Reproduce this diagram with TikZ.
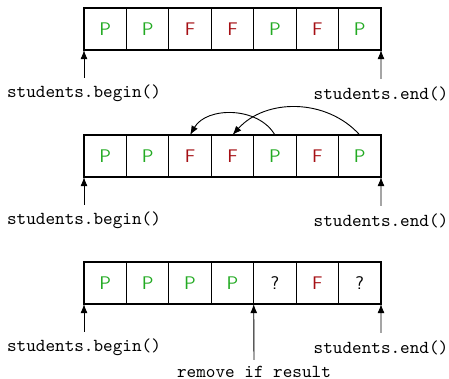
\documentclass[tikz,border=0pt]{standalone}
\usetikzlibrary{arrows.meta}
\definecolor{pgreen}{RGB}{34,170,34}
\definecolor{fred}{RGB}{165,15,20}
\begin{document}
\begin{tikzpicture}[x=0.5464pt,y=-0.5464pt,
  cell/.style={draw, line width=0.6pt, minimum width=23.18pt, minimum height=22.95pt,
    inner sep=0pt, outer sep=0pt, font=\sffamily, anchor=north west},
  pass/.style={text=pgreen}, fail/.style={text=fred}, unk/.style={text=black},
  lbl/.style={font=\ttfamily, inner sep=0pt},
  ptr/.style={-{Latex[length=5pt,width=3.8pt]}, line width=0.5pt},
  mv/.style={-{Latex[length=5pt,width=3.8pt]}, line width=0.5pt}]
\useasboundingbox (0,0) rectangle (449,379);
% row 1
\foreach \t/\s [count=\i from 0] in {P/pass,P/pass,F/fail,F/fail,P/pass,F/fail,P/pass}
  \node[cell,\s] (a\i) at ({84+42.43*\i},8) {\t};
% row 2
\foreach \t/\s [count=\i from 0] in {P/pass,P/pass,F/fail,F/fail,P/pass,F/fail,P/pass}
  \node[cell,\s] (b\i) at ({84+42.43*\i},135) {\t};
% row 3
\foreach \t/\s [count=\i from 0] in {P/pass,P/pass,P/pass,P/pass,?/unk,F/fail,?/unk}
  \node[cell,\s] (c\i) at ({84+42.43*\i},262) {\t};
% labels and pointers
\node[lbl] (la1) at (84,93) {students.begin()};
\node[lbl] (le1) at (381,94) {students.end()};
\node[lbl] (la2) at (84,220) {students.begin()};
\node[lbl] (le2) at (381,221) {students.end()};
\node[lbl] (la3) at (84,347) {students.begin()};
\node[lbl] (le3) at (381,348) {students.end()};
\node[lbl] (rm) at (254,371.5) {remove if result};
\coordinate (pa1) at (84,78);
\coordinate (pe1) at (381,79);
\coordinate (pa2) at (84,205);
\coordinate (pe2) at (381,206);
\coordinate (pa3) at (84,332);
\coordinate (pe3) at (381,333);
\coordinate (prm) at (254,360);
\draw[ptr] (pa1) -- (a0.south west);
\draw[ptr] (pe1) -- (a6.south east);
\draw[ptr] (pa2) -- (b0.south west);
\draw[ptr] (pe2) -- (b6.south east);
\draw[ptr] (pa3) -- (c0.south west);
\draw[ptr] (pe3) -- (c6.south east);
\draw[ptr] (prm) -- (c3.south east);
% moves
\draw[mv] (b4.north) to[bend right=60] (b2.north);
\draw[mv] (b6.north) to[bend right=48] (b3.north);
\end{tikzpicture}
\end{document}
